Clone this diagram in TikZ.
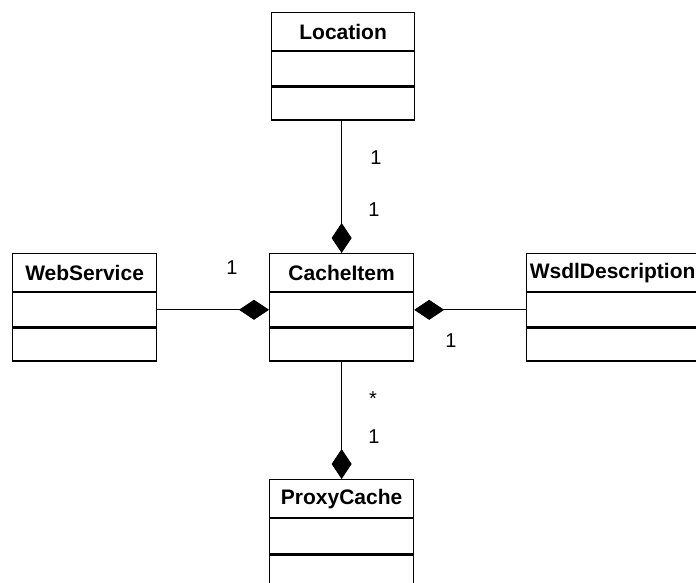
\documentclass[tikz,border=0pt]{standalone}
\usepackage{fontspec}
\setmainfont{Liberation Sans}
\usetikzlibrary{arrows.meta}
\begin{document}
\begin{tikzpicture}[x=1pt,y=-1pt,
  hdr/.style={draw,line width=1.2pt,anchor=north west,minimum height=38pt,inner sep=0pt,
    font=\fontsize{21}{25}\selectfont\bfseries},
  cmp/.style={draw,line width=1.2pt,anchor=north,inner sep=0pt},
  conn/.style={line width=0.8pt},
  comp/.style={-{Diamond[length=30pt,width=20pt]}},
  mult/.style={font=\fontsize{20}{23}\selectfont,inner sep=0pt}]
\clip (0,0) rectangle (696,582);
\fill[white] (0,0) rectangle (696,582);
% Location
\node[hdr,minimum width=143pt] (loc) at (271,12) {Location};
\node[cmp,minimum width=143pt,minimum height=34pt] (loc1) at (loc.south) {};
\node[cmp,minimum width=143pt,minimum height=33pt] (loc2) at (loc1.south) {};
% CacheItem
\node[hdr,minimum width=144pt] (ci) at (269,253) {CacheItem};
\node[cmp,minimum width=144pt,minimum height=34pt] (ci1) at (ci.south) {};
\node[cmp,minimum width=144pt,minimum height=33pt] (ci2) at (ci1.south) {};
% WebService
\node[hdr,minimum width=144pt] (ws) at (12,253) {WebService};
\node[cmp,minimum width=144pt,minimum height=34pt] (ws1) at (ws.south) {};
\node[cmp,minimum width=144pt,minimum height=33pt] (ws2) at (ws1.south) {};
% WsdlDescription
\node[hdr,minimum width=172pt] (wd) at (526,253) {WsdlDescription};
\node[cmp,minimum width=172pt,minimum height=34pt] (wd1) at (wd.south) {};
\node[cmp,minimum width=172pt,minimum height=33pt] (wd2) at (wd1.south) {};
% ProxyCache
\node[hdr,minimum width=144pt] (pc) at (269,479) {ProxyCache};
\node[cmp,minimum width=144pt,minimum height=35pt] (pc1) at (pc.south) {};
\node[cmp,minimum width=144pt,minimum height=35pt] (pc2) at (pc1.south) {};
% connectors
\draw[conn,comp] (ci.north |- loc2.south) -- (ci.north);
\draw[conn,comp] (ws1.east) -- (ci1.west);
\draw[conn,comp] (wd1.west) -- (ci1.east);
\draw[conn,comp] (ci2.south) -- (pc.north);
% multiplicities
\node[mult] (m1) at (376,158) {1};
\node[mult] (m2) at (374,210) {1};
\node[mult] (m3) at (232,268) {1};
\node[mult] (m4) at (451,341) {1};
\node[mult] (m5) at (373,399) {*};
\node[mult] (m6) at (374,437) {1};
\end{tikzpicture}
\end{document}
